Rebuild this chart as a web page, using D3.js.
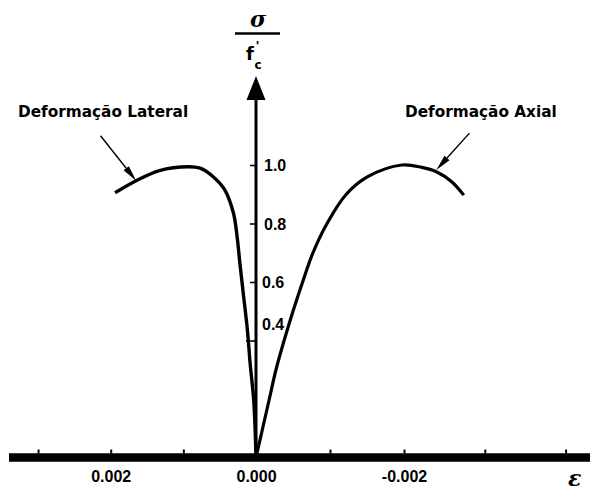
<!DOCTYPE html>
<html>
<head>
<meta charset="utf-8">
<script src="https://cdn.jsdelivr.net/npm/d3@7"></script>
<style>
  html, body { margin: 0; padding: 0; background: #fff; }
  svg { display: block; }
  text { font-family: "Liberation Sans", Arial, sans-serif; font-weight: bold; fill: #000; }
</style>
</head>
<body>
<svg id="chart" width="590" height="493"></svg>
<script>
// ---- data ----
const xTickValues = [0.003, 0.002, 0.001, 0, -0.001, -0.002, -0.003, -0.004];
const xLabelValues = [0.002, 0, -0.002];
const yTickValues = [0.4, 0.6, 0.8, 1.0];

const lateralStrain = [0, 0.00003, 0.00008, 0.00012, 0.00017, 0.00022, 0.00026, 0.00031, 0.00043, 0.00059, 0.00077, 0.00093, 0.00133, 0.00165, 0.00194];
const lateralStress = [0, 0.19, 0.32, 0.44, 0.55, 0.66, 0.755, 0.835, 0.915, 0.96, 0.989, 0.994, 0.981, 0.946, 0.905];

const axialStrain = [0, -0.00009, -0.00018, -0.00027, -0.00038, -0.0005, -0.00063, -0.00077, -0.00096, -0.00122, -0.00151, -0.00197, -0.00222, -0.0024, -0.00259, -0.00274];
const axialStress = [0, 0.1, 0.2, 0.3, 0.4, 0.5, 0.6, 0.7, 0.8, 0.9, 0.96, 1.0, 0.992, 0.977, 0.943, 0.897];

const annotations = [
  { text: "Deformação Lateral", from: [0.00214, 1.10], to: [0.00165, 0.946] },
  { text: "Deformação Axial", from: [-0.00281, 1.109], to: [-0.0024, 0.983] }
];

// ---- scales ----
const svg = d3.select("#chart");
const x = d3.scaleLinear().domain([0.0034, 0, -0.002, -0.0045]).range([9, 256, 404, 606]);
const y = d3.scaleLinear().domain([0, 1]).range([457.5, 165]);
const yTop = 1.222;

// ---- x axis ----
svg.append("line")
  .attr("x1", x(0.0034)).attr("x2", 590)
  .attr("y1", y(0)).attr("y2", y(0))
  .attr("stroke", "#000").attr("stroke-width", 8.5);

const xTicksG = svg.append("g")
  .attr("transform", `translate(0,${y(0) - 4})`)
  .call(d3.axisTop(x).tickValues(xTickValues).tickSize(4).tickFormat(""));
xTicksG.select(".domain").remove();
xTicksG.selectAll(".tick line").attr("stroke", "#000").attr("stroke-width", 2);

const xLab = svg.append("g")
  .attr("transform", `translate(0,${y(0)})`)
  .call(d3.axisBottom(x).tickValues(xLabelValues).tickSize(0)
    .tickFormat(d => d3.format(".3f")(d).replace("\u2212", "-")));
xLab.select(".domain").remove();
xLab.selectAll("text")
  .attr("y", 24.5).attr("dy", 0)
  .style("font-size", "16px")
  .style("font-family", "'Liberation Sans', Arial, sans-serif")
  .style("font-weight", "bold")
  .attr("fill", "#000");

// ---- y axis ----
svg.append("line")
  .attr("x1", x(0)).attr("x2", x(0))
  .attr("y1", y(0)).attr("y2", y(yTop) - 2)
  .attr("stroke", "#000").attr("stroke-width", 3);

svg.append("path")
  .attr("d", `M${x(0)},${y(yTop) - 24} L${x(0) + 9.5},${y(yTop)} L${x(0) - 9.5},${y(yTop)} Z`)
  .attr("fill", "#000");

const yTicksG = svg.append("g")
  .attr("transform", `translate(${x(0) - 1},0)`)
  .call(d3.axisLeft(y).tickValues(yTickValues).tickSize(5).tickFormat(""));
yTicksG.select(".domain").remove();
yTicksG.selectAll(".tick line").attr("stroke", "#000").attr("stroke-width", 1.6)
  .attr("x2", d => d === 0.4 ? -9 : -5);

const yLab = svg.append("g")
  .attr("transform", `translate(${x(0) + 6},0)`)
  .call(d3.axisRight(y).tickValues(yTickValues).tickSize(0).tickFormat(d3.format(".1f")));
yLab.select(".domain").remove();
yLab.selectAll("text")
  .attr("x", d => d >= 0.8 ? 2 : 0)
  .attr("dy", d => d === 0.4 ? "-0.68em" : "0.36em")
  .style("font-size", "16px")
  .style("font-family", "'Liberation Sans', Arial, sans-serif")
  .style("font-weight", "bold")
  .attr("text-anchor", "start")
  .attr("fill", "#000");

// ---- y axis title (sigma / f'c) ----
const tx = x(0) + 2;
svg.append("text").attr("x", tx).attr("y", 27)
  .attr("text-anchor", "middle")
  .style("font-family", "'DejaVu Serif', serif").style("font-style", "italic")
  .style("font-size", "22px").text("σ");
svg.append("line").attr("x1", 235).attr("x2", 280).attr("y1", 33.5).attr("y2", 33.5)
  .attr("stroke", "#000").attr("stroke-width", 2.5);
svg.append("text").attr("x", 246).attr("y", 60)
  .style("font-family", "'DejaVu Sans', sans-serif")
  .style("font-size", "18px").text("f");
svg.append("text").attr("x", 256).attr("y", 50)
  .style("font-size", "13px").text("'");
svg.append("text").attr("x", 254.5).attr("y", 68.5)
  .style("font-family", "'DejaVu Sans', sans-serif")
  .style("font-size", "12px").text("c");

// ---- epsilon ----
svg.append("text").attr("x", 568).attr("y", 486)
  .style("font-family", "'DejaVu Serif', serif").style("font-style", "italic")
  .style("font-size", "22px").text("ε");

// ---- curves ----
const line = d3.line().x(d => x(d[0])).y(d => y(d[1])).curve(d3.curveCatmullRom.alpha(0.5));
svg.append("path")
  .datum(lateralStrain.map((s, i) => [s, lateralStress[i]]))
  .attr("d", line).attr("fill", "none").attr("stroke", "#000").attr("stroke-width", 3.4);
svg.append("path")
  .datum(axialStrain.map((s, i) => [s, axialStress[i]]))
  .attr("d", line).attr("fill", "none").attr("stroke", "#000").attr("stroke-width", 3.2);

// ---- annotations ----
const labelPos = [[18, 117], [405, 117]];
annotations.forEach((a, i) => {
  svg.append("text").attr("x", labelPos[i][0]).attr("y", labelPos[i][1])
    .style("font-family", "'DejaVu Sans', sans-serif")
    .style("font-size", "15.3px")
    .text(a.text);
  const x1 = x(a.from[0]), y1 = y(a.from[1]), x2 = x(a.to[0]), y2 = y(a.to[1]);
  const ang = Math.atan2(y2 - y1, x2 - x1);
  const L = 16, W = 3.4;
  const bx = x2 - L * Math.cos(ang), by = y2 - L * Math.sin(ang);
  svg.append("line").attr("x1", x1).attr("y1", y1).attr("x2", bx).attr("y2", by)
    .attr("stroke", "#000").attr("stroke-width", 1.4);
  const px = -Math.sin(ang) * W, py = Math.cos(ang) * W;
  svg.append("path")
    .attr("d", `M${x2},${y2} L${bx + px},${by + py} L${bx - px},${by - py} Z`)
    .attr("fill", "#000");
});
</script>
</body>
</html>
